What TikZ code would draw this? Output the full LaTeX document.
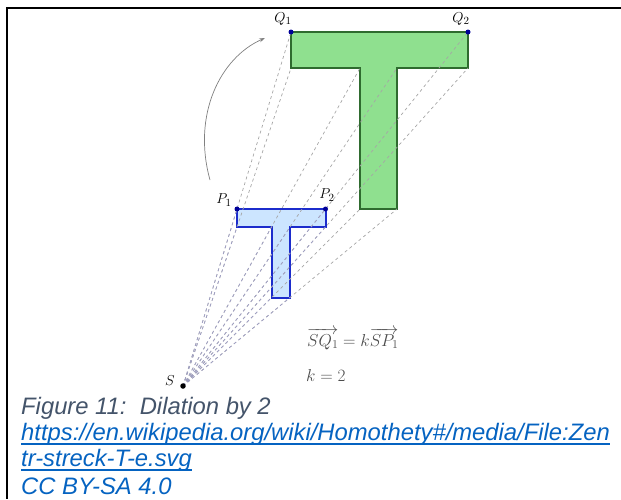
\documentclass[tikz,border=0pt]{standalone}
\usepackage{amsmath, amssymb}
\usepackage{fontspec}
\usepackage{xcolor}
\newfontfamily\capfont{Liberation Sans}
\usetikzlibrary{calc,arrows.meta}

\definecolor{tgreen}{HTML}{8FE08F}
\definecolor{tgreenline}{HTML}{2F6B2F}
\definecolor{tblue}{HTML}{CCE5FF}
\definecolor{tblueline}{HTML}{1C2CCC}
\definecolor{capgrey}{HTML}{44546A}
\definecolor{linkblue}{HTML}{0563C1}

\tikzset{
  ray/.style={gray!70, line width=0.7pt, dash pattern=on 3pt off 3pt},
  smallray/.style={blue!25!gray!60, line width=0.7pt, dash pattern=on 3pt off 3pt},
  bigT/.style={fill=tgreen, draw=tgreenline, line width=1.5pt},
  smallT/.style={fill=tblue, draw=tblueline, line width=2pt},
  vertexdot/.style={circle, fill=blue!60!black, inner sep=0pt, minimum size=5pt},
  lbl/.style={font=\fontsize{15}{17}\selectfont, inner sep=0pt},
  eqn/.style={font=\fontsize{16.5}{19}\selectfont, text=black!70, inner sep=0pt, anchor=base west},
  captext/.style={font=\capfont\itshape\fontsize{23.8}{26}\selectfont, inner sep=0pt, anchor=base west},
}

\begin{document}
\begin{tikzpicture}[x=1pt, y=-1pt]
  \useasboundingbox (0,0) rectangle (621,499);
  % frame
  \draw[line width=2.2pt] (621,7.7) -- (7,7.7) -- (7,499);

  % centre and small T
  \coordinate (S) at (183,386);
  \coordinate (a1) at (237,209);
  \coordinate (a2) at (325.5,209);
  \coordinate (a3) at (325.5,227);
  \coordinate (a4) at (290,227);
  \coordinate (a5) at (290,297.5);
  \coordinate (a6) at (271.5,297.5);
  \coordinate (a7) at (271.5,227);
  \coordinate (a8) at (237,227);
  % big T, k = 2
  \foreach \i in {1,...,8} {
    \coordinate (b\i) at ($(S)!2!(a\i)$);
  }

  \draw[bigT] (b1) -- (b2) -- (b3) -- (b4) -- (b5) -- (b6) -- (b7) -- (b8) -- cycle;
  \draw[smallT] (a1) -- (a2) -- (a3) -- (a4) -- (a5) -- (a6) -- (a7) -- (a8) -- cycle;

  \foreach \i in {1,...,8} {
    \draw[ray] (S) -- (b\i);
    \draw[smallray] (S) -- (a\i);
  }

  % points
  \node[vertexdot] (P1) at (a1) {};
  \node[vertexdot] (P2) at (a2) {};
  \node[vertexdot] (Q1) at (b1) {};
  \node[vertexdot] (Q2) at (b2) {};
  \node[circle, fill=black, inner sep=0pt, minimum size=5.5pt] (Sdot) at (S) {};

  \node[lbl] (lQ1) at (283,19) {$Q_1$};
  \node[lbl] (lQ2) at (461,19) {$Q_2$};
  \node[lbl] (lP1) at (224,200) {$P_1$};
  \node[lbl] (lP2) at (327,195) {$P_2$};
  \node[lbl] (lS) at (170,381) {$S$};

  % turning arrow
  \coordinate (arcstart) at (210,180);
  \coordinate (arcend) at (265,38);
  \draw[gray, line width=0.7pt, -{Stealth[length=6pt, width=4pt]}]
    (arcstart) .. controls (192,115) and (220,58) .. (arcend);

  \node[eqn] (eq1) at (307,346) {$\overrightarrow{SQ_1}=k\overrightarrow{SP_1}$};
  \node[eqn] (eq2) at (306,381) {$k=2$};

  % caption
  \node[captext, text=capgrey] (cap1) at (21,414) {Figure 11:\ \ Dilation by 2};
  \node[captext, text=linkblue] (cap2) at (21,440) {https://en.wikipedia.org/wiki/Homothety\#/media/File:Zen};
  \node[captext, text=linkblue] (cap3) at (21,466) {tr-streck-T-e.svg};
  \node[captext, text=linkblue] (cap4) at (21,494) {CC BY-SA 4.0};
  \draw[linkblue, line width=1.3pt] ($(cap2.base west)+(0,4)$) -- ($(cap2.base east)+(0,4)$);
  \draw[linkblue, line width=1.3pt] ($(cap3.base west)+(0,4)$) -- ($(cap3.base east)+(0,4)$);
\end{tikzpicture}
\end{document}
